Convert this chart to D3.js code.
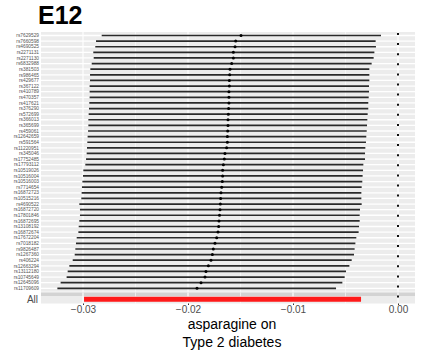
<!DOCTYPE html>
<html><head><meta charset="utf-8">
<script src="https://cdn.jsdelivr.net/npm/d3@7/dist/d3.min.js"></script>
<style>body{margin:0;background:#fff}svg{display:block;font-family:"Liberation Sans",Arial,sans-serif}</style>
</head><body><svg id="c" width="422" height="360"></svg>
<script>
const snps = ["rs7629529","rs7660598","rs4690525","rs2271131","rs2271130","rs6832988","rs381503","rs986465","rs429677","rs367122","rs410789","rs470357","rs417621","rs376290","rs572699","rs366013","rs365699","rs459061","rs12642659","rs591564","rs11220951","rs345046","rs17752485","rs17793112","rs10519026","rs10516004","rs10516003","rs7714654","rs16872723","rs10515216","rs4690522","rs16872720","rs17801846","rs16872695","rs13108192","rs16872674","rs17672204","rs7018182","rs9826487","rs1267360","rs406224","rs12663294","rs13112180","rs10745649","rs12645096","rs11709609"];
const estimate = [-0.01495,-0.01546,-0.01552,-0.01568,-0.01568,-0.01584,-0.01600,-0.01603,-0.01606,-0.01606,-0.01610,-0.01610,-0.01610,-0.01613,-0.01616,-0.01619,-0.01619,-0.01622,-0.01625,-0.01625,-0.01632,-0.01648,-0.01654,-0.01663,-0.01670,-0.01670,-0.01673,-0.01679,-0.01686,-0.01689,-0.01692,-0.01695,-0.01700,-0.01705,-0.01708,-0.01714,-0.01727,-0.01743,-0.01759,-0.01768,-0.01781,-0.01806,-0.01829,-0.01838,-0.01876,-0.01914];
const lower = [-0.02822,-0.02876,-0.02883,-0.02902,-0.02898,-0.02917,-0.02930,-0.02933,-0.02933,-0.02937,-0.02937,-0.02937,-0.02940,-0.02943,-0.02946,-0.02949,-0.02949,-0.02952,-0.02956,-0.02959,-0.02962,-0.02965,-0.02971,-0.02978,-0.02997,-0.03000,-0.03006,-0.03010,-0.03013,-0.03016,-0.03035,-0.03029,-0.03029,-0.03035,-0.03041,-0.03044,-0.03060,-0.03067,-0.03073,-0.03079,-0.03098,-0.03130,-0.03146,-0.03156,-0.03213,-0.03244];
const upper = [-0.00162,-0.00213,-0.00210,-0.00225,-0.00232,-0.00251,-0.00273,-0.00273,-0.00273,-0.00276,-0.00276,-0.00279,-0.00283,-0.00283,-0.00289,-0.00292,-0.00295,-0.00298,-0.00302,-0.00305,-0.00311,-0.00314,-0.00314,-0.00330,-0.00333,-0.00337,-0.00340,-0.00346,-0.00349,-0.00349,-0.00346,-0.00362,-0.00365,-0.00365,-0.00371,-0.00375,-0.00397,-0.00406,-0.00413,-0.00419,-0.00441,-0.00463,-0.00495,-0.00508,-0.00530,-0.00590];
const allLabel = ["All"];
const allEstimate = [-0.0167];
const allLower = [-0.0299];
const allUpper = [-0.00352];
const xTicks = [-0.03,-0.02,-0.01,0.00];
const xMinor = [-0.025,-0.015,-0.005];
const titleText = "E12";
const xTitle = ["asparagine on","Type 2 diabetes"];

const svg = d3.select("#c");
const P = {l:41, r:415, t:32, b:291.7};
const A = {t:292.5, b:303.5};
const x = d3.scaleLinear().domain([-0.03,0]).range([83,398]);
const y = d3.scalePoint().domain(snps).range([35.5,288.3]);
const ya = d3.scalePoint().domain(allLabel).range([299.3,299.3]);

// main panel
svg.append("rect").attr("x",P.l).attr("y",P.t).attr("width",P.r-P.l).attr("height",P.b-P.t).attr("fill","#ececec");
const g = svg.append("g");
g.selectAll(".vmin").data(xMinor).join("line").attr("x1",d=>x(d)).attr("x2",d=>x(d)).attr("y1",P.t).attr("y2",P.b).attr("stroke","#fff").attr("stroke-width",0.6);
g.selectAll(".vmaj").data(xTicks).join("line").attr("x1",d=>x(d)).attr("x2",d=>x(d)).attr("y1",P.t).attr("y2",P.b).attr("stroke","#fff").attr("stroke-width",1.2);
g.selectAll(".hmaj").data(snps).join("line").attr("x1",P.l).attr("x2",P.r).attr("y1",d=>y(d)).attr("y2",d=>y(d)).attr("stroke","#fff").attr("stroke-width",1.3);

// all panel
svg.append("rect").attr("x",P.l).attr("y",A.t).attr("width",P.r-P.l).attr("height",A.b-A.t).attr("fill","#ececec");
svg.append("rect").attr("x",P.l).attr("y",A.t).attr("width",P.r-P.l).attr("height",3.5).attr("fill","#d3d3d3");
svg.selectAll(".avmin").data(xMinor).join("line").attr("x1",d=>x(d)).attr("x2",d=>x(d)).attr("y1",A.t).attr("y2",A.b).attr("stroke","#fff").attr("stroke-width",0.6);
svg.selectAll(".avmaj").data(xTicks).join("line").attr("x1",d=>x(d)).attr("x2",d=>x(d)).attr("y1",A.t).attr("y2",A.b).attr("stroke","#fff").attr("stroke-width",1.2);

// zero dotted line
svg.append("line").attr("x1",x(0)).attr("x2",x(0)).attr("y1",P.t+1).attr("y2",A.b).attr("stroke","#111").attr("stroke-width",2).attr("stroke-dasharray","2,8.1");

// segments & points
const rows = snps.map((s,i)=>({s, e:estimate[i], lo:lower[i], hi:upper[i]}));
g.selectAll(".seg").data(rows).join("line").attr("x1",d=>x(d.lo)).attr("x2",d=>x(d.hi)).attr("y1",d=>y(d.s)).attr("y2",d=>y(d.s)).attr("stroke","#2a2a2a").attr("stroke-width",1.7);
g.selectAll(".pt").data(rows).join("circle").attr("cx",d=>x(d.e)).attr("cy",d=>y(d.s)).attr("r",1.5).attr("fill","#000");

// all row
const arows = allLabel.map((s,i)=>({s, e:allEstimate[i], lo:allLower[i], hi:allUpper[i]}));
svg.selectAll(".aseg").data(arows).join("line").attr("x1",d=>x(d.lo)).attr("x2",d=>x(d.hi)).attr("y1",d=>ya(d.s)).attr("y2",d=>ya(d.s)).attr("stroke","#ff1a1a").attr("stroke-width",5);

// y labels
svg.selectAll(".yl").data(snps).join("text").attr("x",P.l-2).attr("y",d=>y(d)).attr("dy","0.35em").attr("text-anchor","end").attr("font-size",4.8).attr("fill","#555").text(d=>d);
svg.selectAll(".al").data(allLabel).join("text").attr("x",P.l-3).attr("y",d=>ya(d)).attr("dy","0.35em").attr("text-anchor","end").attr("font-size",10).attr("fill","#4d4d4d").text(d=>d);

// x axis
const ax = svg.append("g").attr("transform",`translate(0,${A.b})`).call(d3.axisBottom(x).tickValues(xTicks).tickFormat(d3.format(".2f")).tickSize(1.5).tickPadding(0.5));
ax.select(".domain").remove();
ax.selectAll("line").attr("stroke","#333").attr("stroke-width",1);
ax.selectAll("text").attr("font-size",10).attr("fill","#4d4d4d").attr("font-family","Liberation Sans, Arial, sans-serif");

// titles
svg.append("text").attr("x",38).attr("y",23.5).attr("font-size",25).attr("font-weight","bold").attr("fill","#000").text(titleText);
svg.selectAll(".xt").data(xTitle).join("text").attr("x",232).attr("y",(d,i)=>328.5+i*18).attr("text-anchor","middle").attr("font-size",14).attr("fill","#000").text(d=>d);
</script></body></html>
